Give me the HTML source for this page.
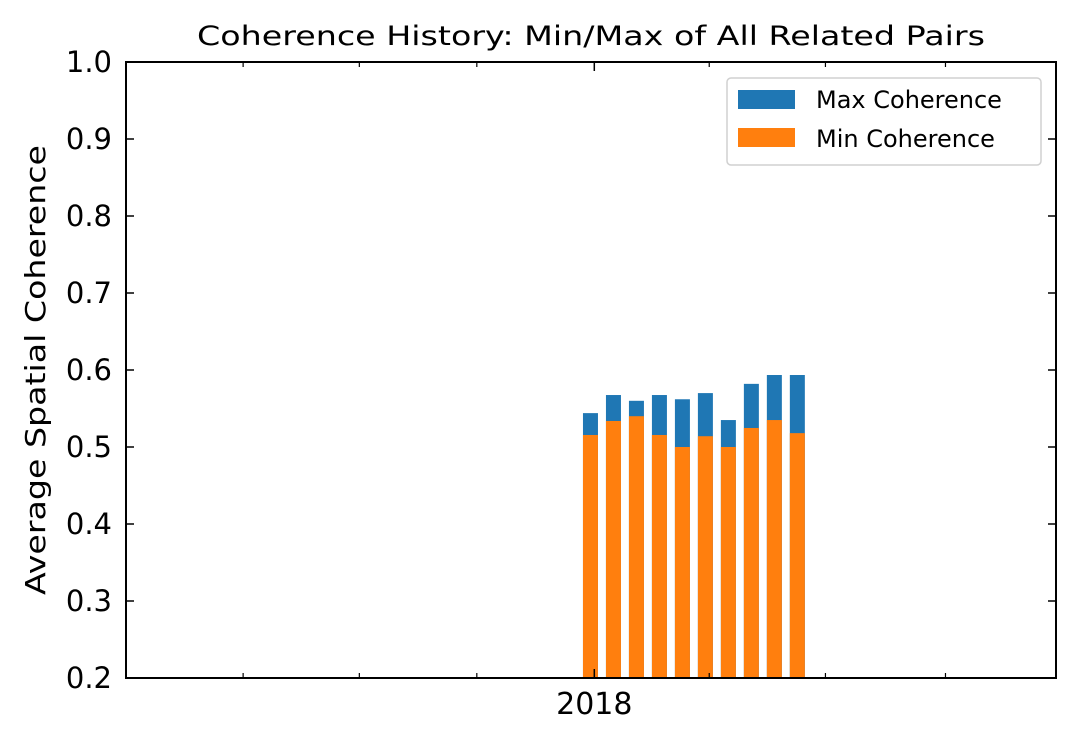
<!DOCTYPE html>
<html><head><meta charset="utf-8"><style>
body{margin:0;background:#fff}
svg text{font-family:"DejaVu Sans","Liberation Sans",sans-serif;fill:#000}
</style></head><body>
<svg id="chart" width="1077" height="741" viewBox="0 0 1077 741" xmlns="http://www.w3.org/2000/svg">
<text x="591" y="45" font-size="27" text-anchor="middle" textLength="788" lengthAdjust="spacingAndGlyphs">Coherence History: Min/Max of All Related Pairs</text>
<text transform="translate(45,370) rotate(-90)" font-size="28" text-anchor="middle" textLength="450" lengthAdjust="spacingAndGlyphs">Average Spatial Coherence</text>
<g id="bars"></g>
<g id="ticks"></g>
<rect x="126" y="62" width="930" height="616" fill="none" stroke="#000" stroke-width="2"/>
<g>
<rect x="727" y="78" width="314" height="87" rx="4" fill="#fff" stroke="#d0d0d0" stroke-width="1.5"/>
<rect x="738" y="90" width="57" height="19" fill="#1f77b4"/>
<text x="816" y="108" font-size="24">Max Coherence</text>
<rect x="738" y="128" width="57" height="19" fill="#ff7f0e"/>
<text x="816" y="147" font-size="24">Min Coherence</text>
</g>
</svg>
<script>
const dayOffsets=[-3,15,33,51,69,87,105,123,141,159];
const maxValues=[0.544,0.5675,0.560,0.5675,0.562,0.570,0.535,0.582,0.5935,0.5935];
const minValues=[0.5156,0.5338,0.540,0.5156,0.500,0.514,0.500,0.5247,0.535,0.518];
const yTicks=[0.2,0.3,0.4,0.5,0.6,0.7,0.8,0.9,1.0];
const xMinorTickDays=[-275,-184,-92,90,181,275];
const xMajorTickDays=[0];
const xMajorLabels=["2018"];
const NS="http://www.w3.org/2000/svg";
const L=126,R=1056,T=62,B=678;
function ys(v){return B-(v-0.2)/0.8*(B-T);}
function xs(d){return 594.3+d*1.277;}
const bars=document.getElementById('bars'),ticks=document.getElementById('ticks');
function mk(tag,attrs,parent){const e=document.createElementNS(NS,tag);for(const k in attrs)e.setAttribute(k,attrs[k]);parent.appendChild(e);return e;}
const bw=15;
dayOffsets.forEach((d,i)=>{
 const cx=xs(d);
 const a=mk('rect',{x:cx-bw/2,y:ys(maxValues[i]),width:bw,height:B-ys(maxValues[i]),fill:'#1f77b4'},bars);
 
 
 const b=mk('rect',{x:cx-bw/2,y:ys(minValues[i]),width:bw,height:B-ys(minValues[i]),fill:'#ff7f0e'},bars);
 
 
});
yTicks.forEach(v=>{
 const y=ys(v);
 mk('line',{x1:L,x2:L+8,y1:y,y2:y,stroke:'#000','stroke-width':1.5},ticks);
 mk('line',{x1:R-8,x2:R,y1:y,y2:y,stroke:'#000','stroke-width':1.5},ticks);
 const t=mk('text',{x:112,y:y+10,'font-size':29,'text-anchor':'end'},ticks);
 t.textContent=v.toFixed(1);
 
 
});
xMinorTickDays.forEach(d=>{
 const x=xs(d);
 mk('line',{x1:x,x2:x,y1:B,y2:B-5,stroke:'#000','stroke-width':1.2},ticks);
 mk('line',{x1:x,x2:x,y1:T,y2:T+5,stroke:'#000','stroke-width':1.2},ticks);
});
xMajorTickDays.forEach((d,i)=>{
 const x=xs(d);
 mk('line',{x1:x,x2:x,y1:B,y2:B-9,stroke:'#000','stroke-width':1.5},ticks);
 mk('line',{x1:x,x2:x,y1:T,y2:T+9,stroke:'#000','stroke-width':1.5},ticks);
 const t=mk('text',{x:x,y:714,'font-size':30,'text-anchor':'middle'},ticks);
 t.textContent=xMajorLabels[i];
 
 
});
</script>
</body></html>
